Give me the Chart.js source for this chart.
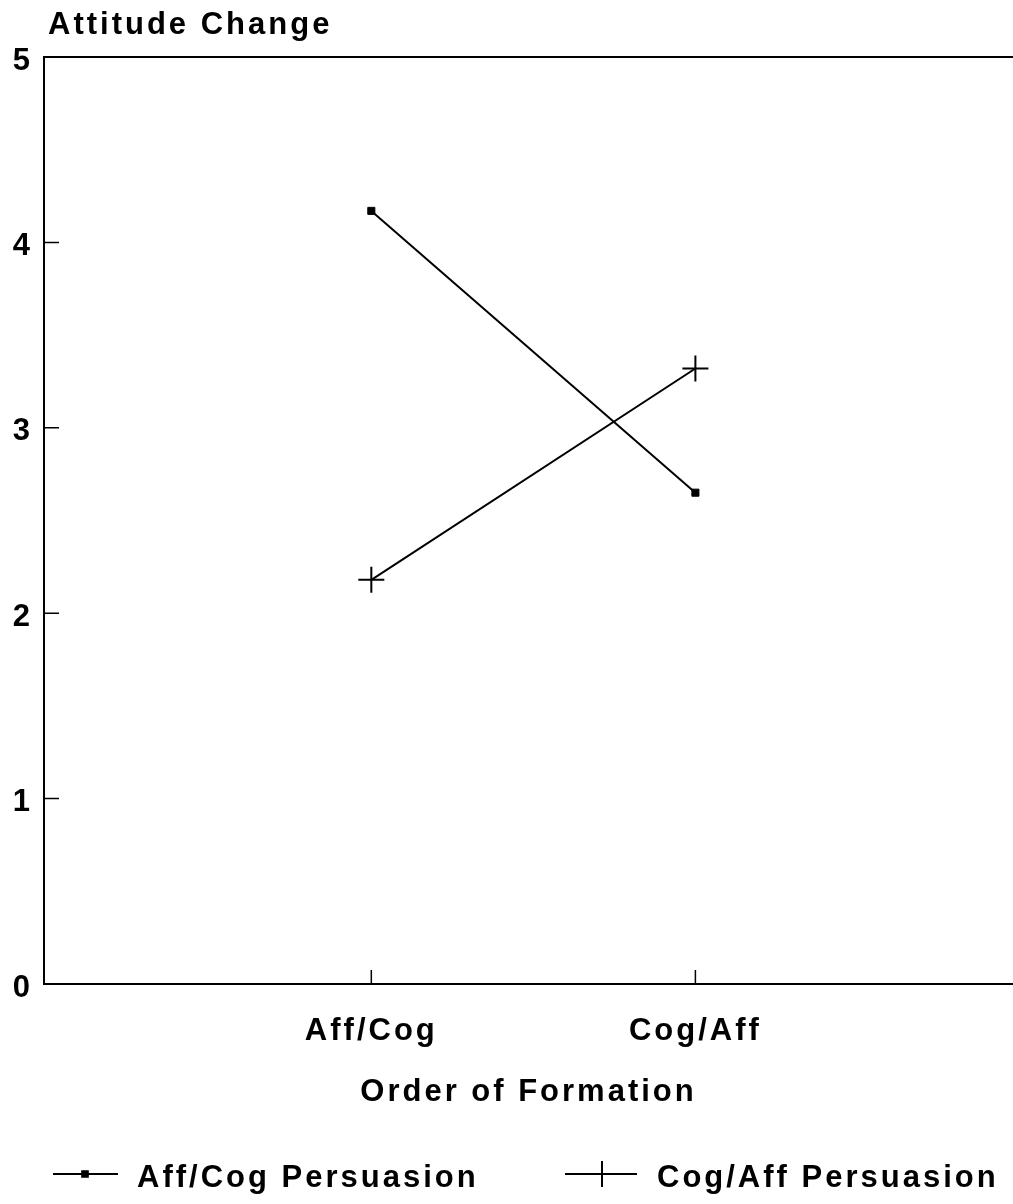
<!DOCTYPE html>
<html>
<head>
<meta charset="utf-8">
<script src="https://cdn.jsdelivr.net/npm/chart.js@4.4.1/dist/chart.umd.min.js"></script>
<style>
  html, body { margin: 0; padding: 0; background: #fff; }
  canvas { display: block; }
</style>
</head>
<body>
<canvas id="grafico" width="1013" height="1204"></canvas>
<script>
// data
const categorias = ['Aff/Cog', 'Cog/Aff'];
const seriesNomes = ['Aff/Cog Persuasion', 'Cog/Aff Persuasion'];
const affCogPersuasion = [4.17, 2.65];
const cogAffPersuasion = [2.18, 3.32];
const yTicks = [0, 1, 2, 3, 4, 5];
const yTitulo = 'Attitude Change';
const xTitulo = 'Order of Formation';

const familia = '"Liberation Sans", Arial, Helvetica, sans-serif';
const fonte = { family: familia, size: 31, weight: 'bold' };
const fonteCss = 'bold 31px ' + familia;
const espaco = '3px';

const extras = {
    id: 'extras',
    beforeInit(chart) {
        chart.ctx.letterSpacing = espaco;
    },
    beforeDraw(chart) {
        chart.ctx.letterSpacing = espaco;
    },
    afterDraw(chart) {
        const ctx = chart.ctx;
        const a = chart.chartArea;
        const xs = chart.scales.x;
        const ys = chart.scales.y;
        ctx.save();
        ctx.strokeStyle = '#000';
        ctx.fillStyle = '#000';

        // top frame line
        ctx.lineWidth = 2;
        ctx.beginPath();
        ctx.moveTo(a.left, a.top);
        ctx.lineTo(a.right, a.top);
        ctx.stroke();

        // inward tick marks
        ctx.lineWidth = 1.5;
        ctx.beginPath();
        yTicks.slice(1, -1).forEach(v => {
            const y = ys.getPixelForValue(v);
            ctx.moveTo(a.left, y);
            ctx.lineTo(a.left + 15, y);
        });
        categorias.forEach((c, i) => {
            const x = xs.getPixelForValue(i + 1);
            ctx.moveTo(x, a.bottom);
            ctx.lineTo(x, a.bottom - 14);
        });
        ctx.stroke();

        // y axis title, top left
        ctx.font = fonteCss;
        ctx.textAlign = 'left';
        ctx.textBaseline = 'alphabetic';
        ctx.fillText(yTitulo, 48, 34);

        // legend
        const itens = [
            { x0: 53, x1: 118, mx: 85, tx: 137 },
            { x0: 565, x1: 637, mx: 602, tx: 657 }
        ];
        const ly = 1174;
        chart.data.datasets.forEach((ds, i) => {
            const it = itens[i];
            ctx.lineWidth = 2;
            ctx.beginPath();
            ctx.moveTo(it.x0, ly);
            ctx.lineTo(it.x1, ly);
            ctx.stroke();
            Chart.helpers.drawPoint(ctx, {
                pointStyle: ds.pointStyle,
                radius: i === 0 ? 4 : 13,
                borderWidth: ds.pointBorderWidth,
                rotation: 0
            }, it.mx, ly);
            if (ds.pointStyle === 'rect') ctx.fill();
            ctx.font = fonteCss;
            ctx.textAlign = 'left';
            ctx.textBaseline = 'alphabetic';
            ctx.fillText(ds.label, it.tx, 1187);
        });
        ctx.restore();
    }
};

const ctx = document.getElementById('grafico');

new Chart(ctx, {
    type: 'line',
    data: {
        datasets: [
            {
                label: seriesNomes[0],
                data: affCogPersuasion.map((v, i) => ({ x: i + 1, y: v })),
                borderColor: '#000',
                backgroundColor: '#000',
                borderWidth: 2,
                pointStyle: 'rect',
                pointRadius: 5,
                pointBorderWidth: 1,
                tension: 0
            },
            {
                label: seriesNomes[1],
                data: cogAffPersuasion.map((v, i) => ({ x: i + 1, y: v })),
                borderColor: '#000',
                backgroundColor: '#000',
                borderWidth: 2,
                pointStyle: 'cross',
                pointRadius: 13,
                pointBorderWidth: 2,
                tension: 0
            }
        ]
    },
    options: {
        responsive: false,
        animation: false,
        devicePixelRatio: 1,
        layout: {
            autoPadding: false,
            padding: { top: 57, right: 0, left: 0, bottom: 80 }
        },
        plugins: {
            legend: { display: false },
            tooltip: { enabled: false }
        },
        scales: {
            x: {
                type: 'linear',
                min: -0.01,
                max: 2.98,
                afterBuildTicks: s => {
                    s.ticks = categorias.map((c, i) => ({ value: i + 1 }));
                },
                afterFit: s => {
                    s.height = 140;
                    s.paddingLeft = 0;
                    s.paddingRight = 0;
                },
                grid: { display: false, drawTicks: false },
                border: { color: '#000', width: 2 },
                ticks: {
                    color: '#000',
                    font: fonte,
                    padding: 29,
                    autoSkip: false,
                    maxRotation: 0,
                    callback: v => categorias[v - 1] || ''
                },
                title: {
                    display: true,
                    text: xTitulo,
                    color: '#000',
                    font: fonte,
                    padding: { top: 10, bottom: 13 }
                }
            },
            y: {
                min: 0,
                max: 5,
                afterFit: s => {
                    s.width = 44;
                    s.paddingTop = 0;
                    s.paddingBottom = 0;
                },
                grid: { display: false, drawTicks: false },
                border: { color: '#000', width: 2 },
                ticks: {
                    stepSize: 1,
                    color: '#000',
                    font: fonte,
                    padding: 11,
                    labelOffset: 4
                }
            }
        }
    },
    plugins: [extras]
});
</script>
</body>
</html>
